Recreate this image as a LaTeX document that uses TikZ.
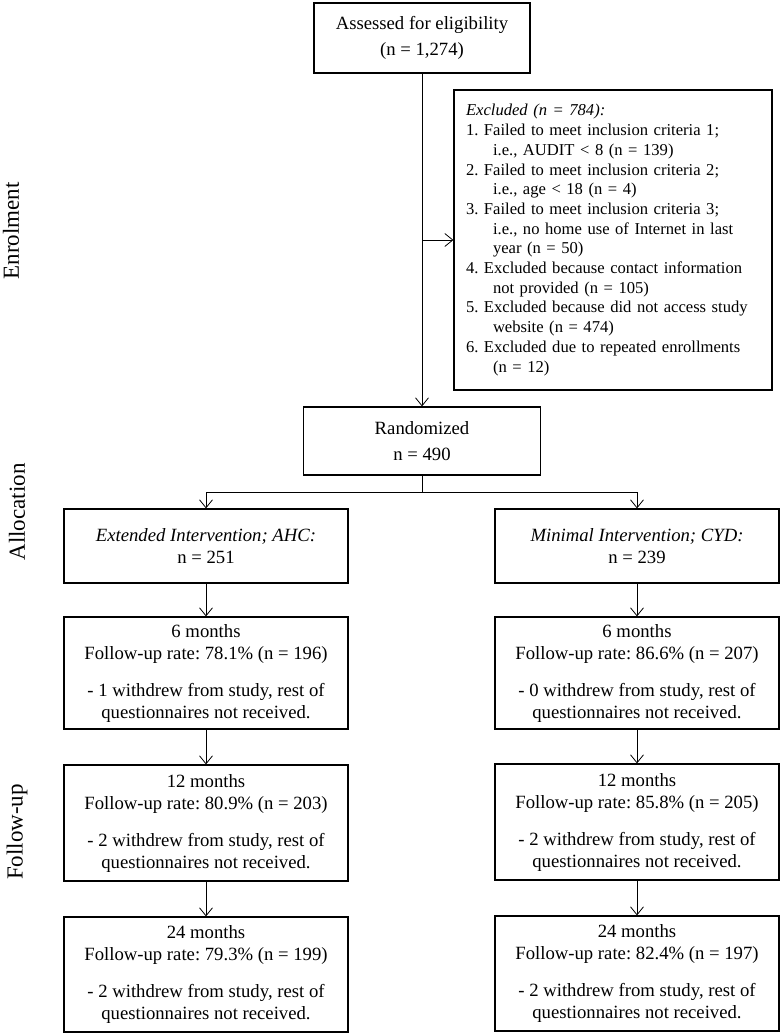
\documentclass[tikz,border=0pt]{standalone}
\usepackage{fontspec}
\setmainfont{Liberation Serif}
\usetikzlibrary{arrows.meta,calc}
\begin{document}
\frenchspacing
\begin{tikzpicture}[x=1pt,y=-1pt,
  box/.style={draw, line width=1.2pt, align=center, inner sep=0pt},
  mainfont/.style={font=\fontsize{18.7}{22}\selectfont},
  arr/.style={line width=0.8pt, -{Straight Barb[length=8pt,width=13pt,line width=0.8pt]}},
  conn/.style={line width=0.8pt},
  side/.style={rotate=90, font=\fontsize{23}{25}\selectfont, inner sep=0pt}]
\useasboundingbox (0,0) rectangle (780,1033);

\node[box, minimum width=216pt, minimum height=70pt, font=\fontsize{18.7}{26.7}\selectfont] (assess) at (422,38) {Assessed for eligibility\\(n = 1,274)};

\node[box, minimum width=318pt, minimum height=300pt, align=left, text width=294pt, font=\fontsize{16.6}{19.7}\selectfont] (excl) at (613,240) {%
\textit{Excluded (n = 784):}\\
1. Failed to meet inclusion criteria 1;\\
\hspace*{27pt}i.e., AUDIT {\textless} 8 (n = 139)\\
2. Failed to meet inclusion criteria 2;\\
\hspace*{27pt}i.e., age {\textless} 18 (n = 4)\\
3. Failed to meet inclusion criteria 3;\\
\hspace*{27pt}i.e., no home use of Internet in last\\
\hspace*{27pt}year (n = 50)\\
4. Excluded because contact information\\
\hspace*{27pt}not provided (n = 105)\\
5. Excluded because did not access study\\
\hspace*{27pt}website (n = 474)\\
6. Excluded due to repeated enrollments\\
\hspace*{27pt}(n = 12)};

\node[box, minimum width=237pt, minimum height=68pt, font=\fontsize{18.7}{26.7}\selectfont] (rand) at (422,441) {Randomized\\n = 490};

\node[box, mainfont, minimum width=284pt, minimum height=74pt] (armA) at (206,546) {\textit{Extended Intervention; AHC:}\\n = 251};
\node[box, mainfont, minimum width=284pt, minimum height=74pt] (armB) at (637,546) {\textit{Minimal Intervention; CYD:}\\n = 239};

\node[box, mainfont, minimum width=284pt, minimum height=112pt] (a6) at (206,673) {6 months\\Follow-up rate: 78.1\% (n = 196)\\[15pt]- 1 withdrew from study, rest of\\questionnaires not received.};
\node[box, mainfont, minimum width=284pt, minimum height=112pt] (b6) at (637,673) {6 months\\Follow-up rate: 86.6\% (n = 207)\\[15pt]- 0 withdrew from study, rest of\\questionnaires not received.};

\node[box, mainfont, minimum width=284pt, minimum height=116pt] (a12) at (206,823) {12 months\\Follow-up rate: 80.9\% (n = 203)\\[15pt]- 2 withdrew from study, rest of\\questionnaires not received.};
\node[box, mainfont, minimum width=284pt, minimum height=116pt] (b12) at (637,822) {12 months\\Follow-up rate: 85.8\% (n = 205)\\[15pt]- 2 withdrew from study, rest of\\questionnaires not received.};

\node[box, mainfont, minimum width=284pt, minimum height=115pt] (a24) at (206,974.5) {24 months\\Follow-up rate: 79.3\% (n = 199)\\[15pt]- 2 withdrew from study, rest of\\questionnaires not received.};
\node[box, mainfont, minimum width=284pt, minimum height=115pt] (b24) at (637,973.5) {24 months\\Follow-up rate: 82.4\% (n = 197)\\[15pt]- 2 withdrew from study, rest of\\questionnaires not received.};

\node[side] (lenr) at (11,231) {Enrolment};
\node[side] (lall) at (17,512) {Allocation};
\node[side] (lfol) at (17,832) {Follow-up};

\draw[arr] (assess.south) -- (rand.north);
\coordinate (exbranch) at (assess.south |- excl.west);
\draw[arr] (exbranch) -- (excl.west);
\coordinate (split) at ($(rand.south)+(0,17)$);
\draw[conn] (rand.south) -- (split);
\draw[arr] (split) -| (armA.north);
\draw[arr] (split) -| (armB.north);
\draw[arr] (armA.south) -- (a6.north);
\draw[arr] (armB.south) -- (b6.north);
\draw[arr] (a6.south) -- (a12.north);
\draw[arr] (b6.south) -- (b12.north);
\draw[arr] (a12.south) -- (a24.north);
\draw[arr] (b12.south) -- (b24.north);
\end{tikzpicture}
\end{document}
